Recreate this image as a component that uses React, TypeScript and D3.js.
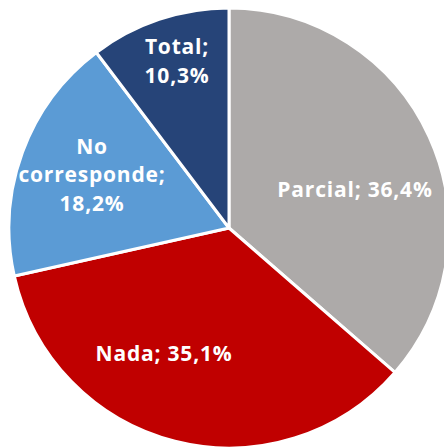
import React from "react";
import * as d3 from "d3";

const categories = ["Parcial", "Nada", "No corresponde", "Total"];
const values = [36.4, 35.1, 18.2, 10.3];
const labelLines = [
  ["Parcial; 36,4%"],
  ["Nada; 35,1%"],
  ["No", "corresponde;", "18,2%"],
  ["Total;", "10,3%"],
];
const colors = ["#ADAAA9", "#C00000", "#5B9BD5", "#264478"];
const labelPos = [
  [355, 190],
  [164, 354],
  [92, 175],
  [177, 61],
];

export default function App() {
  const W = 444, H = 448;
  const cx = 229, cy = 228, r = 220;
  const pie = d3.pie<number>().sort(null).value((d) => d)(values);
  const arc = d3.arc<d3.PieArcDatum<number>>().innerRadius(0).outerRadius(r);
  return (
    <svg width={W} height={H} style={{ position: "absolute", left: 0, top: 0 }}>
      <g transform={`translate(${cx},${cy})`}>
        {pie.map((p, i) => (
          <path key={categories[i]} d={arc(p) || ""} fill={colors[i]} stroke="#fff" strokeWidth={3} strokeLinejoin="round" />
        ))}
      </g>
      {labelLines.map((lines, i) => {
        const [x, y] = labelPos[i];
        const lh = 28.5;
        const y0 = y - ((lines.length - 1) * lh) / 2;
        return (
          <text key={i} x={x} textAnchor="middle" fill="#fff" fontFamily="'Open Sans', sans-serif" fontWeight="bold" fontSize={21} letterSpacing={0.8}>
            {lines.map((l, j) => (
              <tspan key={j} x={x} y={y0 + j * lh} dy="0.35em">{l}</tspan>
            ))}
          </text>
        );
      })}
    </svg>
  );
}
